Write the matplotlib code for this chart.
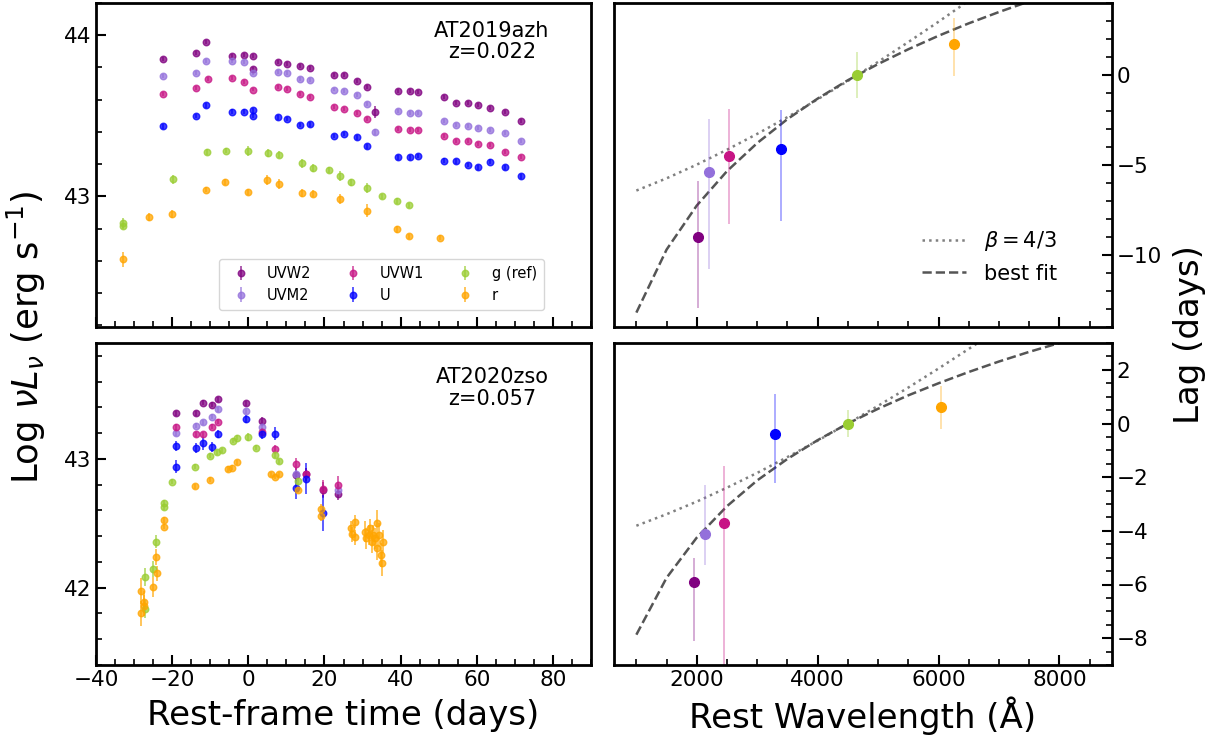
import numpy as np
import matplotlib
matplotlib.use("Agg")
import matplotlib.pyplot as plt
from matplotlib.ticker import MultipleLocator

# ---- light curves, AT2019azh ----
a_w2_t = [-22.5, -13.8, -11.0, -4.3, -1.1, 1.2, 1.3, 7.7, 10.1, 13.6, 16.2, 22.5, 25.0, 28.6, 31.3, 33.3,
          39.2, 42.5, 44.6, 51.5, 54.6, 57.7, 60.4, 63.5, 67.4, 71.5]
a_w2_L = [43.855, 43.89, 43.959, 43.87, 43.878, 43.87, 43.789, 43.832, 43.824, 43.807, 43.799, 43.752, 43.752,
          43.718, 43.679, 43.524, 43.654, 43.656, 43.646, 43.615, 43.582, 43.582, 43.565, 43.551, 43.522, 43.47]
a_w2_e = [0.012] * 15 + [0.035] + [0.012] * 10

a_m2_t = [-22.5, -13.8, -11.0, -4.3, -1.1, 1.2, 7.7, 10.1, 13.6, 16.2, 22.5, 25.0, 28.6, 31.3, 33.3,
          39.2, 42.5, 44.6, 51.5, 54.6, 57.7, 60.4, 63.5, 67.4, 71.5]
a_m2_L = [43.747, 43.764, 43.839, 43.839, 43.832, 43.764, 43.772, 43.764, 43.731, 43.725, 43.663, 43.656,
          43.627, 43.576, 43.4, 43.53, 43.52, 43.52, 43.47, 43.445, 43.437, 43.424, 43.412, 43.391, 43.344]
a_m2_e = [0.012] * 14 + [0.02] + [0.012] * 10

a_w1_t = [-22.5, -13.8, -10.7, -4.3, -1.1, 1.2, 7.7, 10.1, 13.6, 16.2, 22.5, 25.0, 28.6, 31.3,
          39.2, 42.5, 44.6, 51.5, 54.6, 57.7, 60.4, 63.5, 67.4, 71.5]
a_w1_L = [43.636, 43.675, 43.727, 43.737, 43.712, 43.663, 43.679, 43.667, 43.638, 43.619, 43.555, 43.545,
          43.516, 43.478, 43.418, 43.414, 43.412, 43.375, 43.342, 43.346, 43.327, 43.319, 43.273, 43.246]
a_w1_e = [0.012] * 24

a_u_t = [-22.5, -13.8, -11.0, -4.3, -1.1, 1.2, 1.3, 7.7, 10.1, 13.6, 16.2, 22.5, 25.0, 28.6, 31.3,
         39.2, 42.5, 44.6, 51.5, 54.6, 57.7, 60.4, 63.5, 67.4, 71.5]
a_u_L = [43.435, 43.499, 43.565, 43.526, 43.526, 43.534, 43.499, 43.491, 43.48, 43.443, 43.447, 43.375,
         43.387, 43.366, 43.311, 43.242, 43.242, 43.251, 43.222, 43.217, 43.195, 43.182, 43.215, 43.182, 43.126]
a_u_e = [0.015] * 25

a_g_t = [-33.0, -33.0, -19.9, -10.9, -5.9, 0.0, 5.1, 8.1, 14.0, 17.1, 21.1, 24.1, 27.1, 31.2, 35.1, 39.1, 42.1]
a_g_L = [42.836, 42.816, 43.106, 43.277, 43.284, 43.282, 43.267, 43.259, 43.205, 43.178, 43.164, 43.126,
         43.087, 43.052, 43.002, 42.971, 42.944]
a_g_e = [0.03, 0.02, 0.03, 0.02, 0.015, 0.03, 0.025, 0.02, 0.03, 0.025, 0.02, 0.03, 0.02, 0.03, 0.015, 0.02, 0.015]

a_r_t = [-33.0, -26.0, -20.1, -11.0, -6.0, 0.0, 5.0, 8.0, 14.0, 17.0, 24.0, 31.1, 39.1, 42.1, 50.3]
a_r_L = [42.609, 42.872, 42.892, 43.041, 43.091, 43.029, 43.101, 43.079, 43.023, 43.017, 42.983, 42.911,
         42.795, 42.754, 42.743]
a_r_e = [0.045, 0.025, 0.025, 0.015, 0.02, 0.02, 0.03, 0.03, 0.025, 0.02, 0.03, 0.04, 0.02, 0.015, 0.015]

# ---- light curves, AT2020zso ----
b_w2_t = [-19.1, -13.8, -11.8, -9.6, -7.9, -0.7, 3.6, 12.6, 15.1, 19.5, 23.5]
b_w2_L = [43.355, 43.355, 43.435, 43.422, 43.464, 43.433, 43.295, 42.876, 42.881, 42.762, 42.731]
b_w2_e = [0.02, 0.02, 0.02, 0.02, 0.02, 0.02, 0.03, 0.05, 0.05, 0.06, 0.05]

b_m2_t = [-19.1, -13.8, -11.8, -9.6, -7.9, -0.7, 3.6, 12.6, 23.5]
b_m2_L = [43.205, 43.259, 43.285, 43.329, 43.386, 43.37, 43.251, 42.881, 42.756]
b_m2_e = [0.03, 0.02, 0.02, 0.02, 0.02, 0.02, 0.03, 0.05, 0.05]

b_w1_t = [-19.1, -13.8, -11.8, -9.6, -7.9, 3.6, 7.0, 12.6, 15.1, 19.5, 23.5]
b_w1_L = [43.244, 43.192, 43.192, 43.249, 43.288, 43.207, 43.078, 42.961, 42.883, 42.767, 42.798]
b_w1_e = [0.03, 0.02, 0.02, 0.02, 0.02, 0.03, 0.03, 0.05, 0.05, 0.07, 0.07]

b_u_t = [-19.1, -19.1, -13.8, -11.8, -9.6, -7.9, -0.7, 3.6, 7.0, 12.6, 15.1, 19.5]
b_u_L = [43.101, 42.938, 43.085, 43.122, 43.091, 43.192, 43.311, 43.192, 43.194, 42.777, 42.845, 42.578]
b_u_e = [0.04, 0.05, 0.04, 0.05, 0.04, 0.03, 0.03, 0.04, 0.05, 0.09, 0.12, 0.14]

b_g_t = [-27.2, -27.2, -25.1, -24.2, -22.2, -22.2, -20.1, -14.0, -10.1, -8.1, -7.0, -4.1, -3.1,
         0.0, 2.0, 7.0, 8.0, 13.0]
b_g_L = [41.834, 42.08, 42.145, 42.358, 42.661, 42.627, 42.824, 42.938, 43.026, 43.052, 43.067, 43.14,
         43.166, 43.171, 43.088, 43.031, 42.982, 42.829]
b_g_e = [0.07, 0.07, 0.06, 0.05, 0.02, 0.02, 0.02, 0.02, 0.02, 0.02, 0.02, 0.02, 0.02, 0.03, 0.02, 0.02, 0.02, 0.03]

b_r_t = [-28.1, -28.1, -27.3, -27.3, -25.1, -24.2, -24.1, -22.2, -22.2, -14.0, -10.1, -5.3, -4.4, -3.0,
         5.9, 7.0, 8.0, 13.0, 19.1, 19.1, 26.9, 27.2, 27.9, 27.9, 30.7, 30.9, 31.6, 31.9, 32.5, 32.8,
         33.3, 33.9, 33.9, 34.4, 34.8, 35.1, 35.3]
b_r_L = [41.974, 41.8, 41.891, 41.86, 42.005, 42.238, 42.111, 42.526, 42.474, 42.788, 42.839, 42.922,
         42.933, 42.974, 42.881, 42.863, 42.881, 42.759, 42.611, 42.56, 42.461, 42.415, 42.513, 42.391,
         42.435, 42.383, 42.409, 42.461, 42.358, 42.409, 42.383, 42.5, 42.306, 42.409, 42.254, 42.189, 42.358]
b_r_e = [0.1, 0.1, 0.08, 0.08, 0.08, 0.06, 0.06, 0.02, 0.02, 0.02, 0.02, 0.02, 0.02, 0.02,
         0.02, 0.02, 0.02, 0.02, 0.04, 0.04, 0.06, 0.06, 0.05, 0.06, 0.08, 0.08, 0.08, 0.07, 0.09, 0.08,
         0.08, 0.1, 0.09, 0.09, 0.09, 0.1, 0.09]

# ---- lags ----
a_lam = [2017, 2204, 2530, 3397, 4657, 6248]
a_lag = [-9.0, -5.39, -4.5, -4.1, 0.0, 1.72]
a_lag_lo = [3.95, 5.39, 3.8, 4.0, 1.27, 1.79]
a_lag_hi = [3.1, 2.93, 2.6, 2.16, 1.29, 1.47]

b_lam = [1955, 2133, 2447, 3288, 4503, 6044]
b_lag = [-5.91, -4.11, -3.71, -0.40, 0.0, 0.6]
b_lag_lo = [2.18, 1.18, 6.0, 1.8, 0.5, 0.81]
b_lag_hi = [0.9, 1.8, 2.13, 1.49, 0.5, 0.8]

# model curves
a_dot_lam = [1000, 1500, 2000, 2500, 3000, 3500, 4000, 4500, 5000, 5500, 6000, 6500]
a_dot_lag = [-6.42, -5.74, -4.98, -4.15, -3.27, -2.34, -1.35, -0.33, 0.73, 1.83, 2.96, 4.13]
a_fit_lam = [1000, 1500, 2000, 2500, 3000, 3500, 4000, 4500, 5000, 5500, 6000, 6500, 7000, 7500]
a_fit_lag = [-13.2, -9.7, -7.25, -5.34, -3.78, -2.45, -1.31, -0.29, 0.61, 1.43, 2.18, 2.87, 3.50, 4.09]
b_dot_lam = [1000, 1500, 2000, 2500, 3000, 3500, 4000, 4500, 5000, 5500, 6000, 6500, 7000]
b_dot_lag = [-3.81, -3.38, -2.91, -2.39, -1.84, -1.25, -0.64, 0.0, 0.66, 1.34, 2.05, 2.78, 3.52]
b_fit_lam = [1000, 1500, 2000, 2500, 3000, 3500, 4000, 4500, 5000, 5500, 6000, 6500, 7000, 7500, 8000, 8500]
b_fit_lag = [-7.87, -5.75, -4.25, -3.08, -2.12, -1.32, -0.62, 0.0, 0.55, 1.05, 1.50, 1.92, 2.31, 2.67, 3.00, 3.32]

bands = ["UVW2", "UVM2", "UVW1", "U", "g (ref)", "r"]
colors = ["purple", "mediumpurple", "mediumvioletred", "blue", "yellowgreen", "orange"]

a_lc = [(a_w2_t, a_w2_L, a_w2_e), (a_m2_t, a_m2_L, a_m2_e), (a_w1_t, a_w1_L, a_w1_e),
        (a_u_t, a_u_L, a_u_e), (a_g_t, a_g_L, a_g_e), (a_r_t, a_r_L, a_r_e)]
b_lc = [(b_w2_t, b_w2_L, b_w2_e), (b_m2_t, b_m2_L, b_m2_e), (b_w1_t, b_w1_L, b_w1_e),
        (b_u_t, b_u_L, b_u_e), (b_g_t, b_g_L, b_g_e), (b_r_t, b_r_L, b_r_e)]

plt.rcParams["font.family"] = "DejaVu Sans"
fig = plt.figure(figsize=(12.25, 7.42), dpi=100)

W, H = 1225.0, 742.0
def rect(x0, y0, x1, y1):
    return [x0 / W, 1 - y1 / H, (x1 - x0) / W, (y1 - y0) / H]

ax1 = fig.add_axes(rect(96, 3, 591, 327))
ax2 = fig.add_axes(rect(96, 343, 591, 665))
ax3 = fig.add_axes(rect(614, 3, 1112, 327))
ax4 = fig.add_axes(rect(614, 343, 1112, 665))

for ax, lc in [(ax1, a_lc), (ax2, b_lc)]:
    for (t, L, e), c, name in zip(lc, colors, bands):
        ax.errorbar(t, L, yerr=e, fmt="o", ms=4.7, color=c, alpha=0.75, elinewidth=1.2,
                    capsize=0, label=name)
    ax.set_xlim(-40, 90)
    ax.xaxis.set_major_locator(MultipleLocator(20))
    ax.xaxis.set_minor_locator(MultipleLocator(5))
    ax.yaxis.set_major_locator(MultipleLocator(1))
    ax.yaxis.set_minor_locator(MultipleLocator(0.2))

ax1.set_ylim(42.19, 44.2)
ax2.set_ylim(41.4, 43.9)
ax1.tick_params(labelbottom=False)
ax1.text(0.80, 0.945, "AT2019azh\nz=0.022", transform=ax1.transAxes, ha="center", va="top",
         fontsize=15, linespacing=1.1)
ax2.text(0.80, 0.925, "AT2020zso\nz=0.057", transform=ax2.transAxes, ha="center", va="top",
         fontsize=15, linespacing=1.1)
ax1.legend(ncol=3, fontsize=10.5, loc="lower left", bbox_to_anchor=(0.2485, 0.052),
           borderaxespad=0, handletextpad=0.8, columnspacing=1.85, borderpad=0.5, labelspacing=0.45)

for ax, lam, lag, lo, hi, dl, dv, fl, fv in [
        (ax3, a_lam, a_lag, a_lag_lo, a_lag_hi, a_dot_lam, a_dot_lag, a_fit_lam, a_fit_lag),
        (ax4, b_lam, b_lag, b_lag_lo, b_lag_hi, b_dot_lam, b_dot_lag, b_fit_lam, b_fit_lag)]:
    ax.plot(dl, dv, ":", color="gray", lw=1.8, label=r"$\beta=4/3$")
    ax.plot(fl, fv, "--", color="#555555", lw=1.8, label="best fit")
    for x, y, l, h, c in zip(lam, lag, lo, hi, colors):
        ax.errorbar([x], [y], yerr=[[l], [h]], fmt="none", ecolor=c, alpha=0.35, elinewidth=1.3)
        ax.plot([x], [y], "o", color=c, ms=7)
    ax.set_xlim(630, 8870)
    ax.xaxis.set_major_locator(MultipleLocator(2000))
    ax.xaxis.set_minor_locator(MultipleLocator(500))
    ax.yaxis.tick_right()

ax3.set_ylim(-14, 4)
ax3.yaxis.set_major_locator(MultipleLocator(5))
ax3.yaxis.set_minor_locator(MultipleLocator(1))
ax4.set_ylim(-9, 3)
ax4.yaxis.set_major_locator(MultipleLocator(2))
ax4.yaxis.set_minor_locator(MultipleLocator(0.5))
ax3.tick_params(labelbottom=False)
ax3.legend(loc="lower right", frameon=False, fontsize=15, bbox_to_anchor=(0.906, 0.108),
           borderaxespad=0, handlelength=2.07, handletextpad=0.87)

for ax in [ax1, ax2, ax3, ax4]:
    for s in ax.spines.values():
        s.set_linewidth(2)
    right = ax in (ax3, ax4)
    ax.tick_params(which="both", direction="in", top=False, left=not right, right=right,
                   labelsize=15.5, width=1.5)
    ax.tick_params(which="major", length=7)
    ax.tick_params(which="minor", length=4, width=1.2)

fig.text(26 / W, 1 - 337 / H, r"Log $\nu L_\nu$ (erg s$^{-1}$)", rotation=90, ha="center",
         va="center", fontsize=25.5)
fig.text(1189 / W, 1 - 335 / H, "Lag (days)", rotation=90, ha="center", va="center", fontsize=24.5)
fig.text(343 / W, 1 - 716 / H, "Rest-frame time (days)", ha="center", va="center", fontsize=24.5)
fig.text(863 / W, 1 - 716 / H, "Rest Wavelength (Å)", ha="center", va="center", fontsize=24.5)

fig.savefig("out.png", dpi=100)
